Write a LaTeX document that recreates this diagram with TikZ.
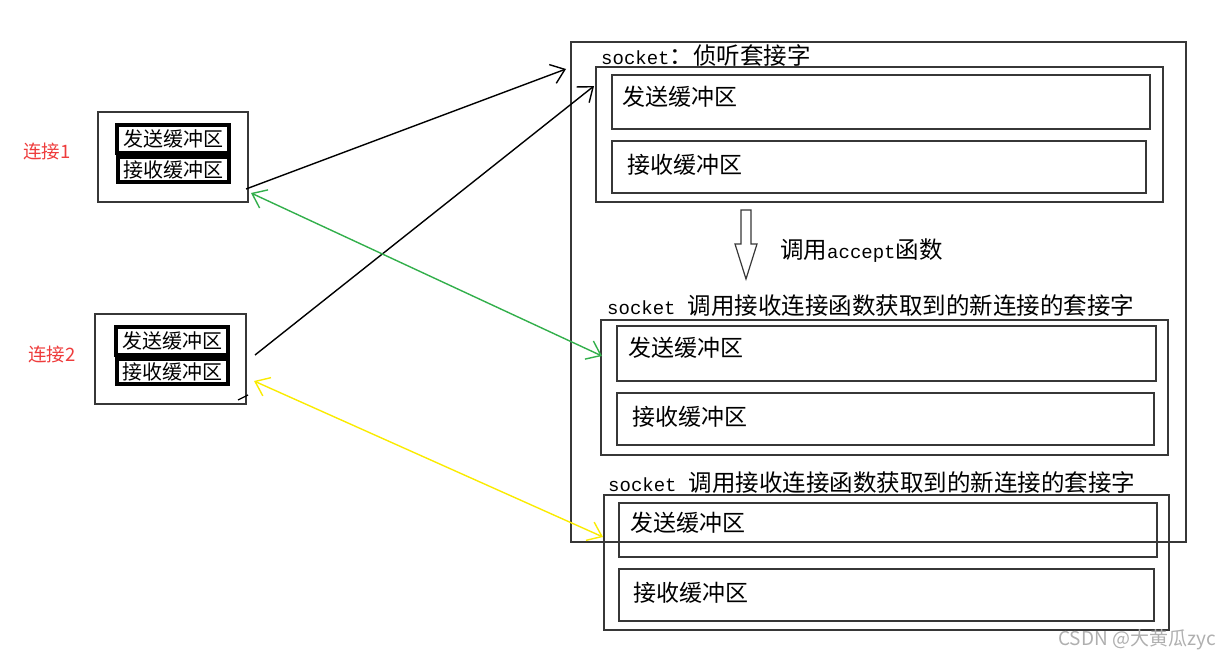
\documentclass[tikz,border=0pt]{standalone}
\usepackage{fontspec}
\setmainfont{Noto Sans CJK SC}
\newfontfamily\mono{Liberation Mono}
\usetikzlibrary{fit,arrows.meta}
\definecolor{edge}{RGB}{55,55,55}
\definecolor{lblred}{RGB}{238,60,60}
\definecolor{grn}{RGB}{50,175,75}
\definecolor{ylw}{RGB}{250,235,0}
\definecolor{wm}{RGB}{175,175,175}
\newcommand\monotxt[1]{{\mono\fontsize{19pt}{21pt}\selectfont #1}}
\tikzset{
  obox/.style={draw=edge,line width=1.5pt,inner sep=0pt},
  tbox/.style={draw=black,line width=3.5pt,inner sep=0pt},
  sbox/.style={draw=edge,line width=1.5pt,inner sep=0pt},
  smalltxt/.style={font=\fontsize{20pt}{22pt}\selectfont,inner sep=0pt},
  bigtxt/.style={font=\fontsize{23pt}{25pt}\selectfont,inner sep=0pt,anchor=west},
  hdrtxt/.style={font=\fontsize{23.5pt}{25pt}\selectfont,inner sep=0pt,anchor=west},
  conlbl/.style={font=\fontsize{18.5pt}{20pt}\selectfont,text=lblred,inner sep=0pt},
  barb/.style={-{Straight Barb[length=13pt,width=20pt,line width=1.4pt]}},
  dbarb/.style={{Straight Barb[length=13pt,width=20pt,line width=1.4pt]}-{Straight Barb[length=13pt,width=20pt,line width=1.4pt]}},
}
\begin{document}
\begin{tikzpicture}[x=1pt,y=-1pt]
\useasboundingbox (0,0) rectangle (1230,661);
% left connection boxes
\node[conlbl] (l1) at (47,151) {连接1};
\node[conlbl] (l2) at (52,354) {连接2};
\node[obox,fit={(98,112)(248,202)}] (c1) {};
\node[tbox,fit={(117,125)(229,153)}] (c1s) {};
\node[tbox,fit={(118,157)(229,182)}] (c1r) {};
\node[smalltxt] (c1st) at (c1s) {发送缓冲区};
\node[smalltxt] (c1rt) at (c1r) {接收缓冲区};
\node[obox,fit={(95,314)(246,404)}] (c2) {};
\node[tbox,fit={(116,327)(228,355)}] (c2s) {};
\node[tbox,fit={(117,359)(228,384)}] (c2r) {};
\node[smalltxt] (c2st) at (c2s) {发送缓冲区};
\node[smalltxt] (c2rt) at (c2r) {接收缓冲区};
% big server box
\node[obox,fit={(571,42)(1186,542)}] (big) {};
\node[hdrtxt] (hdr) at (601,56) {\monotxt{socket}：侦听套接字};
\node[sbox,fit={(596,67)(1163,202)}] (ls) {};
\node[sbox,fit={(612,75)(1150,129)}] (lss) {};
\node[sbox,fit={(612,141)(1146,193)}] (lsr) {};
\node[bigtxt] (lsst) at (622,97) {发送缓冲区};
\node[bigtxt] (lsrt) at (627,165) {接收缓冲区};
% hollow arrow
\draw[edge,line width=1.2pt,fill=white] (741,210) -- (751,210) -- (751,244) -- (757,244) -- (746,279) -- (735,244) -- (741,244) -- cycle;
\node[hdrtxt] (acc) at (780,251) {调用\monotxt{accept}函数};
% accepted socket A
\node[hdrtxt] (hA) at (607,306) {\monotxt{socket}\hspace{12pt}调用接收连接函数获取到的新连接的套接字};
\node[sbox,fit={(601,320)(1168,455)}] (A) {};
\node[sbox,fit={(617,326)(1156,381)}] (As) {};
\node[sbox,fit={(617,393)(1154,445)}] (Ar) {};
\node[bigtxt] (Ast) at (628,348) {发送缓冲区};
\node[bigtxt] (Art) at (632,417) {接收缓冲区};
% accepted socket B
\node[hdrtxt] (hB) at (608,483) {\monotxt{socket}\hspace{12pt}调用接收连接函数获取到的新连接的套接字};
\node[sbox,fit={(604,495)(1169,630)}] (B) {};
\node[sbox,fit={(619,503)(1157,557)}] (Bs) {};
\node[sbox,fit={(619,569)(1154,621)}] (Br) {};
\node[bigtxt] (Bst) at (630,523) {发送缓冲区};
\node[bigtxt] (Brt) at (633,593) {接收缓冲区};
% connectors
\coordinate (p1) at (246,189);
\coordinate (q1) at (566,69);
\coordinate (p2) at (255,355);
\coordinate (q2) at (594,86);
\coordinate (g1) at (251,193);
\coordinate (g2) at (602,356);
\coordinate (y1) at (254,381);
\coordinate (y2) at (603,537);
\draw[barb,black,line width=1.4pt] (p1) -- (q1);
\draw[barb,black,line width=1.4pt] (p2) -- (q2);
\draw[dbarb,grn,line width=1.4pt] (g1) -- (g2);
\draw[dbarb,ylw,line width=1.4pt] (y1) -- (y2);
\coordinate (k1) at (238,400);
\coordinate (k2) at (248,395);
\draw[black,line width=1.2pt] (k1) -- (k2);
% watermark
\node[font=\fontsize{19pt}{21pt}\selectfont,text=wm,anchor=east,inner sep=0pt] (wmk) at (1216,640) {CSDN @大黄瓜zyc};
\end{tikzpicture}
\end{document}
